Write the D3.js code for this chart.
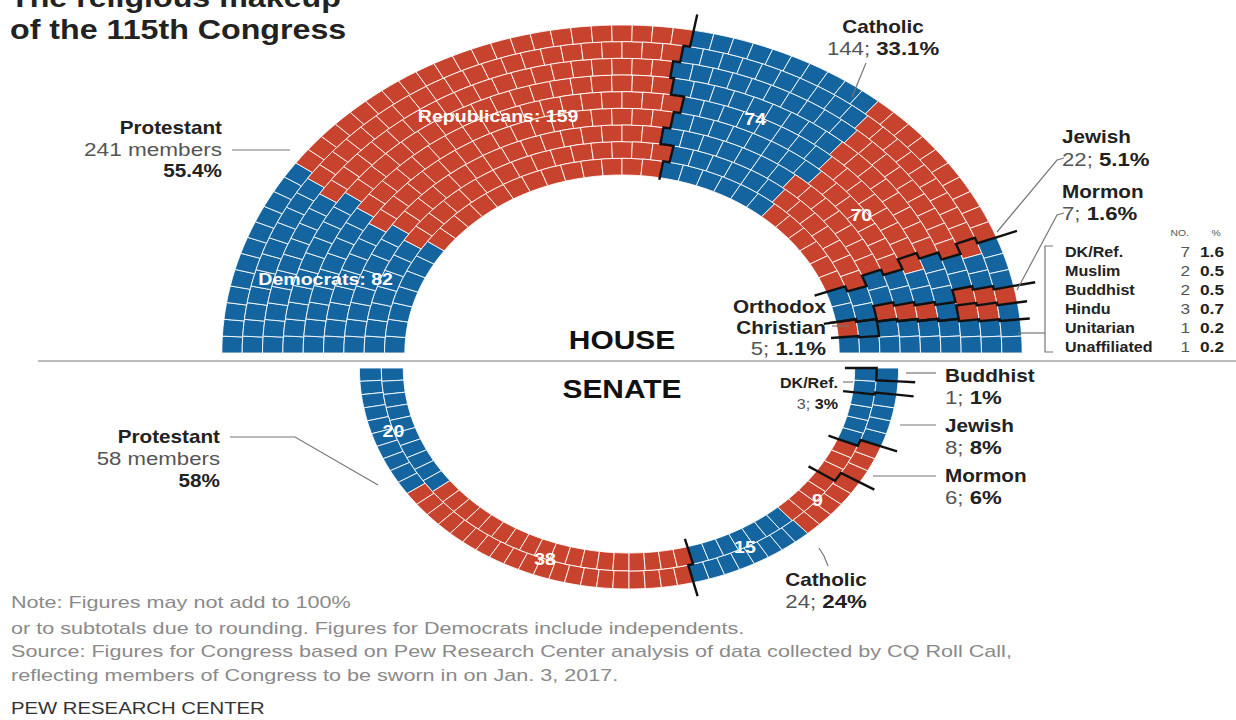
<!DOCTYPE html>
<html>
<head>
<meta charset="utf-8">
<script src="https://cdn.jsdelivr.net/npm/d3@7"></script>
<style>
  body { margin: 0; background: #fff; }
  svg { display: block; }
  text { font-family: "Liberation Sans", Arial, sans-serif; }
</style>
</head>
<body>
<svg id="chart"></svg>
<script>
// House, from the left end of the arc to the right end
const houseReligion = ["Protestant", "Protestant", "Catholic", "Catholic", "Jewish", "Jewish", "Mormon", "Mormon", "Orthodox", "Orthodox", "Other"];
const houseParty    = ["D", "R", "D", "R", "R", "D", "R", "D", "R", "D", "D"];
const houseSeats    = [82, 159, 74, 70, 2, 20, 6, 1, 3, 2, 16];

// Senate, from the left end of the lower arc round to the right end
const senateReligion = ["Protestant", "Protestant", "Catholic", "Catholic", "Mormon", "Jewish", "DK/Ref.", "Buddhist"];
const senateParty    = ["D", "R", "D", "R", "R", "D", "D", "D"];
const senateSeats    = [20, 38, 15, 9, 6, 8, 3, 1];

// small House groups listed in the table
const otherNames  = ["DK/Ref.", "Muslim", "Buddhist", "Hindu", "Unitarian", "Unaffiliated"];
const otherCounts = [7, 2, 2, 3, 1, 1];
const otherPct    = ["1.6", "0.5", "0.5", "0.7", "0.2", "0.2"];

const noteLines = [
  "Note: Figures may not add to 100%",
  "or to subtotals due to rounding. Figures for Democrats include independents.",
  "Source: Figures for Congress based on Pew Research Center analysis of data collected by CQ Roll Call,",
  "reflecting members of Congress to be sworn in on Jan. 3, 2017."
];

const width = 1236;
const height = 720;
const SX = 1.22;   // the picture is stretched sideways
const TX = 1.15;   // text stretch

const blue = "#14659f";
const red = "#c8432d";
const dark = "#222";
const grey = "#555";

const svg = d3.select("#chart")
    .attr("width", width)
    .attr("height", height);

const partyColor = d3.scaleOrdinal()
    .domain(["D", "R"])
    .range([blue, red]);

// seats per ring in proportion to ring radius, then sorted by angle
function seatLayout(total, rings, rScale) {
    const mids = d3.range(rings).map(i => rScale(i + 0.5));
    const sum = d3.sum(mids);
    const raw = mids.map(m => total * m / sum);
    const counts = raw.map(Math.floor);
    const rem = total - d3.sum(counts);
    const order = d3.range(rings).sort((a, b) => (raw[b] - counts[b]) - (raw[a] - counts[a]));
    for (let k = 0; k < rem; k++) counts[order[k]]++;
    const seats = [];
    counts.forEach((n, i) => {
        for (let j = 0; j < n; j++) seats.push({ ring: i, j: j, n: n, f: (j + 0.5) / n });
    });
    seats.sort((a, b) => a.f - b.f || b.ring - a.ring);
    return { seats, counts };
}

function drawChamber(o) {
    const total = d3.sum(o.seats);
    const cum = d3.cumsum(o.seats);
    const rScale = d3.scaleLinear().domain([0, o.rings]).range([o.rIn, o.rOut]);
    const aScale = d3.scaleLinear().domain([0, 1]).range(o.angles);
    const layout = seatLayout(total, o.rings, rScale);
    layout.seats.forEach((s, k) => { s.seg = d3.bisectRight(cum, k); s.k = k; });

    const g = svg.append("g")
        .attr("transform", `translate(${o.cx},${o.cy}) scale(${SX},1)`);

    const arc = d3.arc()
        .innerRadius(d => rScale(d.ring))
        .outerRadius(d => rScale(d.ring + 1))
        .startAngle(d => aScale(d.j / d.n))
        .endAngle(d => aScale((d.j + 1) / d.n));

    g.selectAll("path.seat")
        .data(layout.seats)
        .join("path")
        .attr("class", "seat")
        .attr("d", arc)
        .attr("fill", d => partyColor(o.party[d.seg]))
        .attr("stroke", "#fff")
        .attr("stroke-width", 1)
        .attr("stroke-opacity", 0.85)
        .attr("vector-effect", "non-scaling-stroke");

    // black lines between religions, following the seat edges
    const P = (r, f) => {
        const a = aScale(f);
        return [r * Math.sin(a), -r * Math.cos(a)];
    };
    const bounds = [];
    for (let i = 1; i < o.religion.length; i++) {
        if (o.religion[i] !== o.religion[i - 1]) bounds.push(cum[i - 1]);
    }
    bounds.forEach((c, bi) => {
        const b = layout.counts.map((n, ring) =>
            layout.seats.filter(s => s.k < c && s.ring === ring).length / n);
        const ext = o.ext[bi] || o.ext[o.ext.length - 1];
        const pts = [P(rScale(0) - ext[0], b[0])];
        for (let i = 0; i < o.rings; i++) {
            pts.push(P(rScale(i), b[i]));
            pts.push(P(rScale(i + 1), b[i]));
            if (i < o.rings - 1 && b[i + 1] !== b[i]) {
                for (let t = 1; t <= 10; t++) pts.push(P(rScale(i + 1), b[i] + (b[i + 1] - b[i]) * t / 10));
            }
        }
        pts.push(P(rScale(o.rings) + ext[1], b[o.rings - 1]));
        g.append("path")
            .attr("d", d3.line()(pts))
            .attr("fill", "none")
            .attr("stroke", "#111")
            .attr("stroke-width", 2.4)
            .attr("vector-effect", "non-scaling-stroke");
    });

    // white numbers inside the rings
    o.inner.forEach(lab => {
        const start = lab.seg === 0 ? 0 : cum[lab.seg - 1];
        const a = aScale((start + o.seats[lab.seg] / 2) / total);
        const r = lab.r;
        svg.append("text")
            .attr("transform", `translate(${o.cx + SX * r * Math.sin(a)},${o.cy - r * Math.cos(a) + 6}) scale(${TX},1)`)
            .attr("text-anchor", "middle")
            .attr("fill", "#fff")
            .style("font-size", "17px")
            .style("font-weight", "bold")
            .text(lab.text(o.seats[lab.seg]));
    });
}

drawChamber({
    cx: 622, cy: 353, rings: 9, rIn: 178, rOut: 328,
    angles: [-Math.PI / 2, Math.PI / 2],
    religion: houseReligion, party: houseParty, seats: houseSeats,
    ext: [[2, 16], [10, 18], [10, 18], [6, 8], [6, 8]],
    inner: [
        { seg: 0, r: 254, text: v => `Democrats: ${v}` },
        { seg: 1, r: 258, text: v => `Republicans: ${v}` },
        { seg: 2, r: 258, text: v => `${v}` },
        { seg: 3, r: 240, text: v => `${v}` }
    ]
});

drawChamber({
    cx: 629, cy: 368, rings: 2, rIn: 185, rOut: 221,
    angles: [Math.PI * 1.5, Math.PI / 2],
    religion: senateReligion, party: senateParty, seats: senateSeats,
    ext: [[8, 14]],
    inner: [
        { seg: 0, r: 203, text: v => `${v}` },
        { seg: 1, r: 203, text: v => `${v}` },
        { seg: 2, r: 203, text: v => `${v}` },
        { seg: 3, r: 203, text: v => `${v}` }
    ]
});

// separator between House and Senate
svg.append("line")
    .attr("x1", 38).attr("x2", width)
    .attr("y1", 361).attr("y2", 361)
    .attr("stroke", "#bbb")
    .attr("stroke-width", 2);

// text helper: parts = [[text, bold?, colour]]
function label(x, y, parts, anchor, size, stretch) {
    const t = svg.append("text")
        .attr("transform", `translate(${x},${y}) scale(${stretch || TX},1)`)
        .attr("text-anchor", anchor || "start")
        .style("font-size", (size || 18) + "px");
    parts.forEach(p => {
        t.append("tspan")
            .attr("font-weight", p[1] ? "bold" : "normal")
            .attr("fill", p[2] || (p[1] ? dark : grey))
            .text(p[0]);
    });
    return t;
}

function leader(pts) {
    svg.append("path")
        .attr("d", d3.line()(pts))
        .attr("fill", "none")
        .attr("stroke", "#777")
        .attr("stroke-width", 1.2);
}

const fmt = (v, t) => `${d3.format(".1f")(v / t * 100)}%`;
const fmt0 = (v, t) => `${Math.round(v / t * 100)}%`;
const houseTotal = d3.sum(houseSeats);
const senateTotal = d3.sum(senateSeats);
const houseBy = d3.rollup(houseReligion.map((r, i) => [r, houseSeats[i]]), v => d3.sum(v, d => d[1]), d => d[0]);
const senateBy = d3.rollup(senateReligion.map((r, i) => [r, senateSeats[i]]), v => d3.sum(v, d => d[1]), d => d[0]);

// title (first line runs off the top, as in the original)
label(10, 7, [["The religious makeup", true, "#222"]], "start", 28);
label(10, 39, [["of the 115th Congress", true, "#222"]], "start", 28);

// chamber names
label(622, 349, [["HOUSE", true, "#111"]], "middle", 26);
label(622, 398, [["SENATE", true, "#111"]], "middle", 26);

// House labels
const hp = houseBy.get("Protestant");
label(222, 134, [["Protestant", true]], "end");
label(222, 156, [[`${hp} members`]], "end", 18.5, 1.22);
label(222, 177, [[fmt(hp, houseTotal), true]], "end");
leader([[232, 150], [290, 150]]);

const hc = houseBy.get("Catholic");
label(883, 33, [["Catholic", true]], "middle");
label(883, 55, [[`${hc}; `], [fmt(hc, houseTotal), true]], "middle", 18.5, 1.2);
leader([[866, 63], [852, 97]]);

const hj = houseBy.get("Jewish");
label(1062, 143, [["Jewish", true]]);
label(1062, 166, [[`${hj}; `], [fmt(hj, houseTotal), true]], "start", 18.5, 1.2);
leader([[1064, 158], [1057, 160], [997, 232]]);

const hm = houseBy.get("Mormon");
label(1062, 198, [["Mormon", true]]);
label(1062, 220, [[`${hm}; `], [fmt(hm, houseTotal), true]], "start", 18.5, 1.2);
leader([[1064, 213], [1057, 215], [1017, 290]]);

const ho = houseBy.get("Orthodox");
label(826, 313, [["Orthodox", true]], "end");
label(826, 334, [["Christian", true]], "end");
label(826, 355, [[`${ho}; `], [fmt(ho, houseTotal), true]], "end", 18.5, 1.2);
leader([[832, 326], [849, 326]]);

// table of the smallest House groups
label(1189, 236, [["NO."]], "end", 9);
label(1216, 236, [["%"]], "middle", 9);
otherNames.forEach((name, i) => {
    const y = 257 + i * 19;
    label(1065, y, [[name, true]], "start", 14);
    label(1190, y, [[`${otherCounts[i]}`]], "end", 15);
    label(1224, y, [[otherPct[i], true]], "end", 15);
});
leader([[1053, 246], [1045, 246], [1045, 352], [1053, 352]]);
leader([[1018, 333], [1045, 333]]);

// Senate labels
const sp = senateBy.get("Protestant");
label(220, 443, [["Protestant", true]], "end");
label(220, 465, [[`${sp} members`]], "end", 18.5, 1.2);
label(220, 487, [[fmt0(sp, senateTotal), true]], "end");
leader([[230, 437], [295, 437], [378, 485]]);

const sd = senateBy.get("DK/Ref.");
label(838, 388, [["DK/Ref.", true]], "end", 14);
label(838, 409, [[`${sd}; `], [fmt0(sd, senateTotal), true]], "end", 14);
leader([[843, 382], [853, 382]]);

[["Buddhist", 382, 373, 906], ["Jewish", 432, 425, 900], ["Mormon", 482, 476, 873]].forEach(d => {
    const v = senateBy.get(d[0]);
    label(945, d[1], [[d[0], true]]);
    label(945, d[1] + 22, [[`${v}; `], [fmt0(v, senateTotal), true]], "start", 18.5, 1.2);
    leader([[d[3], d[2]], [936, d[2]]]);
});

const sc = senateBy.get("Catholic");
label(826, 586, [["Catholic", true]], "middle");
label(826, 608, [[`${sc}; `], [fmt0(sc, senateTotal), true]], "middle", 18.5, 1.2);
leader([[819, 548], [824, 556], [828, 566]]);

// notes
noteLines.forEach((line, i) => {
    label(11, [608, 634, 657, 681][i], [[line, false, "#8a8a8a"]], "start", 16, 1.35);
});
label(11, 714, [["PEW RESEARCH CENTER", false, "#333"]], "start", 16, 1.27);
</script>
</body>
</html>
